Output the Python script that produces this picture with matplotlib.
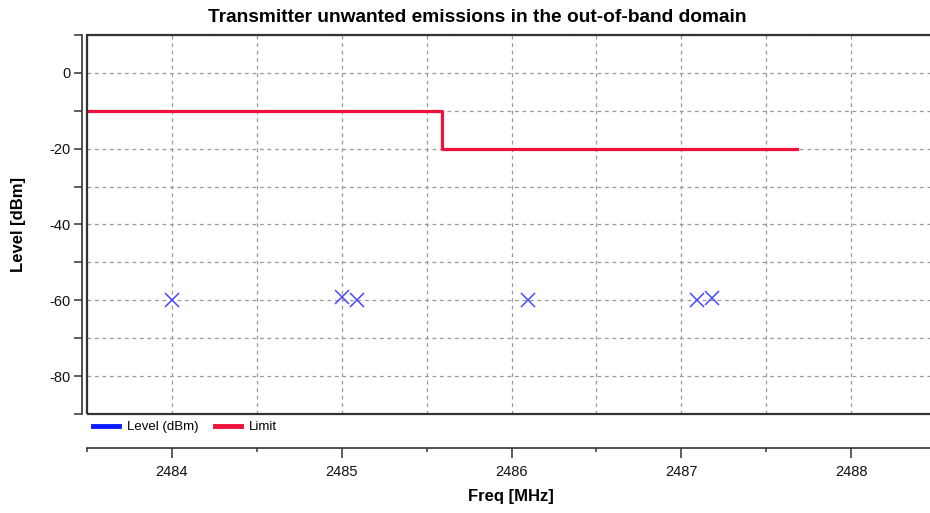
import matplotlib
matplotlib.use("Agg")
import matplotlib.pyplot as plt
from matplotlib.patches import Rectangle
from matplotlib.lines import Line2D
from matplotlib.ticker import MultipleLocator

plt.rcParams['font.family'] = ['Liberation Sans Narrow', 'Liberation Sans', 'DejaVu Sans']

# data
level_freq = [2484.0, 2485.0, 2485.09, 2486.10, 2487.09, 2487.18]
level_dbm = [-60.0, -59.0, -59.8, -60.0, -60.0, -59.5]
limit_freq = [2483.5, 2485.59, 2485.59, 2487.68]
limit_dbm = [-10, -10, -20, -20]
x_ticks = [2484, 2485, 2486, 2487, 2488]
y_ticks = [0, -20, -40, -60, -80]

W, H = 930, 513
fig = plt.figure(figsize=(W / 100, H / 100), dpi=100)
L, R, T, B = 87, 936, 35, 414
ax = fig.add_axes([L / W, 1 - B / H, (R - L) / W, (B - T) / H])
ax.set_xlim(2483.5, 2488.5)
ax.set_ylim(-90, 10)

for s in ['top', 'right']:
    ax.spines[s].set_visible(False)
ax.spines['left'].set_position(('outward', 3.6))
ax.spines['bottom'].set_position(('outward', 24.5))
for s in ['left', 'bottom']:
    ax.spines[s].set_color('#333333')
    ax.spines[s].set_linewidth(1.2)

# plot box
ax.add_patch(Rectangle((0, 0), 1, 1, transform=ax.transAxes, fill=False,
                       edgecolor='#333333', linewidth=1.6, zorder=5, clip_on=False))

ax.xaxis.set_major_locator(MultipleLocator(1))
ax.xaxis.set_minor_locator(MultipleLocator(0.5))
ax.set_xticks(x_ticks)
ax.set_xticklabels([str(v) for v in x_ticks])
ax.yaxis.set_major_locator(MultipleLocator(20))
ax.yaxis.set_minor_locator(MultipleLocator(10))
ax.set_yticks(y_ticks)
ax.set_yticklabels([str(v) for v in y_ticks])

ax.tick_params(axis='both', which='both', colors='#333333', labelcolor='#111111',
               labelsize=10.5)
ax.tick_params(axis='y', which='both', length=5.5, width=1.1, pad=3)
ax.tick_params(axis='x', which='major', length=7, width=1.1, pad=5)
ax.tick_params(axis='x', which='minor', length=3, width=1.1)

ax.grid(True, which='both', color='#999999', linestyle=(0, (3, 3)), linewidth=0.9)
ax.set_axisbelow(True)

ax.plot(limit_freq, limit_dbm, color='#f0103c', linewidth=2.3, zorder=3)
ax.plot(level_freq, level_dbm, linestyle='none', marker='x', markersize=10,
        markeredgewidth=1.1, color='#4a4af5', zorder=4)

fig.text(477 / W, 1 - 18 / H, 'Transmitter unwanted emissions in the out-of-band domain',
         ha='center', va='center', fontsize=13.8, fontweight='bold')
fig.text(511 / W, 1 - 497 / H, 'Freq [MHz]', ha='center', va='center',
         fontsize=12, fontweight='bold')
fig.text(18 / W, 1 - 225 / H, 'Level [dBm]', ha='center', va='center',
         fontsize=12, fontweight='bold', rotation=90)

handles = [Line2D([], [], color='#0a1aff', linewidth=3.5),
           Line2D([], [], color='#f0103c', linewidth=3.5)]
fig.legend(handles, ['Level (dBm)', 'Limit'], loc='center left',
           bbox_to_anchor=(93 / W, 1 - 427 / H), ncol=2, frameon=False,
           fontsize=9.5, handlelength=2.0, handletextpad=0.6, columnspacing=1.2,
           borderaxespad=0, borderpad=0)

fig.savefig('out.png', dpi=100)
